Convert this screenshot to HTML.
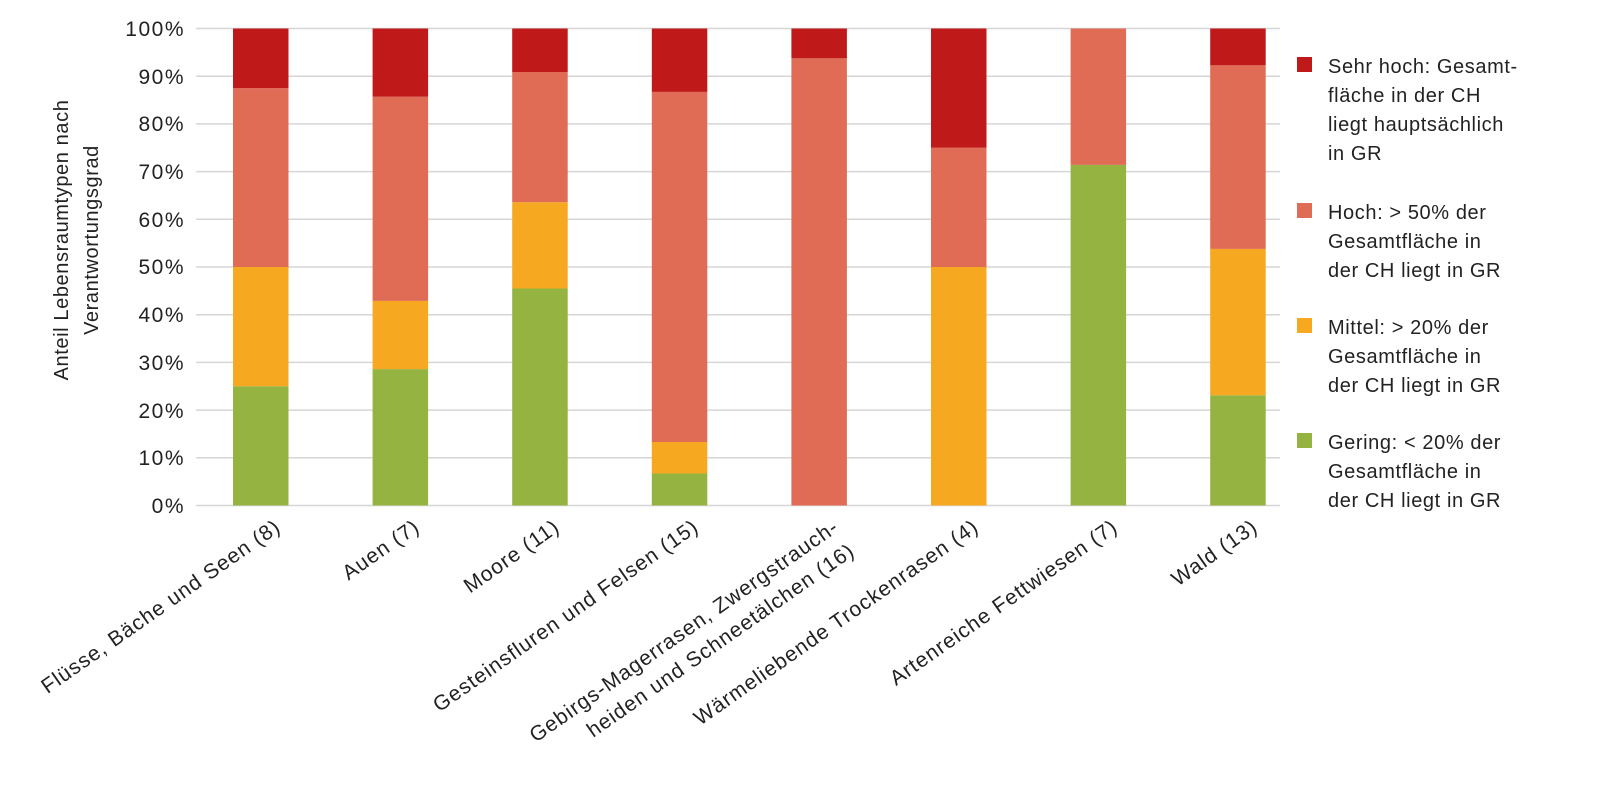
<!DOCTYPE html>
<html><head><meta charset="utf-8"><style>
body{margin:0;background:#fff}
svg text{font-family:"Liberation Sans",sans-serif;fill:#222}
</style></head><body>
<svg width="1600" height="795" xmlns="http://www.w3.org/2000/svg">
<g stroke="#d6d6d6" stroke-width="1.5">
<line x1="196" x2="1280" y1="28.5" y2="28.5"/>
<line x1="196" x2="1280" y1="76.2" y2="76.2"/>
<line x1="196" x2="1280" y1="123.9" y2="123.9"/>
<line x1="196" x2="1280" y1="171.6" y2="171.6"/>
<line x1="196" x2="1280" y1="219.3" y2="219.3"/>
<line x1="196" x2="1280" y1="267" y2="267"/>
<line x1="196" x2="1280" y1="314.7" y2="314.7"/>
<line x1="196" x2="1280" y1="362.4" y2="362.4"/>
<line x1="196" x2="1280" y1="410.1" y2="410.1"/>
<line x1="196" x2="1280" y1="457.8" y2="457.8"/>
<line x1="196" x2="1280" y1="505.5" y2="505.5"/>
</g>
<g font-size="21" text-anchor="end" letter-spacing="1.5">
<text x="185" y="36">100%</text><text x="185" y="84">90%</text><text x="185" y="131">80%</text>
<text x="185" y="179">70%</text><text x="185" y="227">60%</text><text x="185" y="274">50%</text>
<text x="185" y="322">40%</text><text x="185" y="370">30%</text><text x="185" y="418">20%</text>
<text x="185" y="465">10%</text><text x="185" y="513">0%</text>
</g>
<g font-size="20" text-anchor="middle" letter-spacing="0.6" transform="translate(68,240) rotate(-90)">
<text x="0" y="0">Anteil Lebensraumtypen nach</text>
<text x="0" y="30">Verantwortungsgrad</text>
</g>
<g>
<rect x="233" y="386.25" width="55.5" height="119.25" fill="#95b340"/>
<rect x="233" y="267" width="55.5" height="119.25" fill="#f6a821"/>
<rect x="233" y="88.1" width="55.5" height="178.9" fill="#e06c55"/>
<rect x="233" y="28.5" width="55.5" height="59.6" fill="#c0191a"/>

<rect x="372.6" y="369.1" width="55.5" height="136.4" fill="#95b340"/>
<rect x="372.6" y="300.9" width="55.5" height="68.2" fill="#f6a821"/>
<rect x="372.6" y="96.7" width="55.5" height="204.2" fill="#e06c55"/>
<rect x="372.6" y="28.5" width="55.5" height="68.2" fill="#c0191a"/>

<rect x="512.2" y="288.5" width="55.5" height="217" fill="#95b340"/>
<rect x="512.2" y="202.2" width="55.5" height="86.3" fill="#f6a821"/>
<rect x="512.2" y="72" width="55.5" height="130.2" fill="#e06c55"/>
<rect x="512.2" y="28.5" width="55.5" height="43.5" fill="#c0191a"/>

<rect x="651.8" y="473.5" width="55.5" height="32" fill="#95b340"/>
<rect x="651.8" y="442" width="55.5" height="31.5" fill="#f6a821"/>
<rect x="651.8" y="91.9" width="55.5" height="350.1" fill="#e06c55"/>
<rect x="651.8" y="28.5" width="55.5" height="63.4" fill="#c0191a"/>

<rect x="791.4" y="58.3" width="55.5" height="447.2" fill="#e06c55"/>
<rect x="791.4" y="28.5" width="55.5" height="29.8" fill="#c0191a"/>

<rect x="931" y="267" width="55.5" height="238.5" fill="#f6a821"/>
<rect x="931" y="147.75" width="55.5" height="119.25" fill="#e06c55"/>
<rect x="931" y="28.5" width="55.5" height="119.25" fill="#c0191a"/>

<rect x="1070.6" y="164.9" width="55.5" height="340.6" fill="#95b340"/>
<rect x="1070.6" y="28.5" width="55.5" height="136.4" fill="#e06c55"/>

<rect x="1210.2" y="395.3" width="55.5" height="110.2" fill="#95b340"/>
<rect x="1210.2" y="248.9" width="55.5" height="146.4" fill="#f6a821"/>
<rect x="1210.2" y="65.3" width="55.5" height="183.6" fill="#e06c55"/>
<rect x="1210.2" y="28.5" width="55.5" height="36.8" fill="#c0191a"/>
</g>
<g font-size="20" letter-spacing="0.6">
<rect x="1297" y="57" width="15" height="15" fill="#c0191a"/>
<text x="1328" y="73">Sehr hoch: Gesamt-</text><text x="1328" y="102">fläche in der CH</text><text x="1328" y="131">liegt hauptsächlich</text><text x="1328" y="160">in GR</text>
<rect x="1297" y="203" width="15" height="15" fill="#e06c55"/>
<text x="1328" y="219">Hoch: &gt; 50% der</text><text x="1328" y="248">Gesamtfläche in</text><text x="1328" y="277">der CH liegt in GR</text>
<rect x="1297" y="318" width="15" height="15" fill="#f6a821"/>
<text x="1328" y="334">Mittel: &gt; 20% der</text><text x="1328" y="363">Gesamtfläche in</text><text x="1328" y="392">der CH liegt in GR</text>
<rect x="1297" y="433" width="15" height="15" fill="#95b340"/>
<text x="1328" y="449">Gering: &lt; 20% der</text><text x="1328" y="478">Gesamtfläche in</text><text x="1328" y="507">der CH liegt in GR</text>
</g>
<g font-size="21" text-anchor="end" letter-spacing="1">
<text transform="translate(282,530) rotate(-35)">Flüsse, Bäche und Seen (8)</text>
<text transform="translate(421,530) rotate(-35)">Auen (7)</text>
<text transform="translate(561,530) rotate(-35)">Moore (11)</text>
<text transform="translate(700,530) rotate(-35)">Gesteinsfluren und Felsen (15)</text>
<text transform="translate(840,530) rotate(-35)">Gebirgs-Magerrasen, Zwergstrauch-</text>
<text transform="translate(856,554) rotate(-35)">heiden und Schneetälchen (16)</text>
<text transform="translate(980,530) rotate(-35)">Wärmeliebende Trockenrasen (4)</text>
<text transform="translate(1119,530) rotate(-35)">Artenreiche Fettwiesen (7)</text>
<text transform="translate(1259,530) rotate(-35)">Wald (13)</text>
</g>
</svg>
</body></html>
